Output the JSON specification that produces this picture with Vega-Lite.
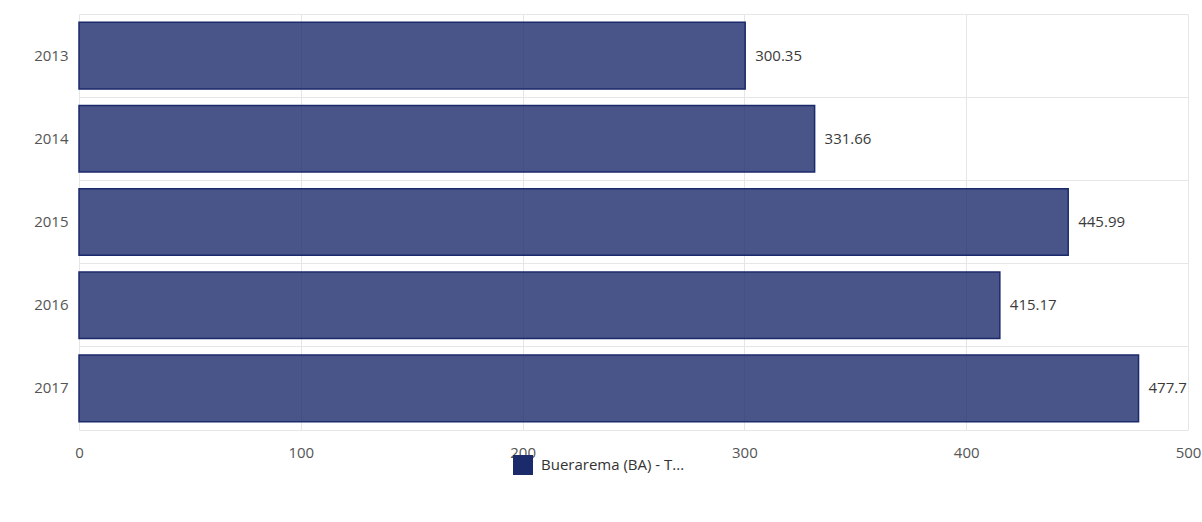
{
  "$schema": "https://vega.github.io/schema/vega-lite/v6.json",
  "autosize": {"type": "none"},
  "padding": {"left": 79, "top": 14, "right": 14, "bottom": 92},
  "width": 1109,
  "height": 416,
  "background": "white",
  "config": {
    "font": "Open Sans",
    "view": {"stroke": null}
  },
  "data": {
    "values": [
      {"year": "2013", "value": 300.35, "series": "Buerarema (BA) - T..."},
      {"year": "2014", "value": 331.66, "series": "Buerarema (BA) - T..."},
      {"year": "2015", "value": 445.99, "series": "Buerarema (BA) - T..."},
      {"year": "2016", "value": 415.17, "series": "Buerarema (BA) - T..."},
      {"year": "2017", "value": 477.7, "series": "Buerarema (BA) - T..."}
    ]
  },
  "encoding": {
    "y": {
      "field": "year",
      "type": "nominal",
      "sort": null,
      "title": null,
      "scale": {"paddingInner": 0, "paddingOuter": 0},
      "axis": {
        "grid": true,
        "bandPosition": 0,
        "gridColor": "#e6e6e6",
        "domain": false,
        "ticks": false,
        "labelPadding": 11,
        "labelFontSize": 15,
        "labelColor": "#555555",
        "labelFont": "Open Sans"
      }
    },
    "x": {
      "field": "value",
      "type": "quantitative",
      "title": null,
      "scale": {"domain": [0, 500], "nice": false},
      "axis": {
        "values": [0, 100, 200, 300, 400, 500],
        "grid": true,
        "gridColor": "#e6e6e6",
        "domainColor": "#e6e6e6",
        "ticks": false,
        "labelPadding": 15,
        "labelFontSize": 15,
        "labelColor": "#555555",
        "labelFont": "Open Sans",
        "labelFlush": false
      }
    }
  },
  "layer": [
    {
      "mark": {
        "type": "bar",
        "height": {"band": 0.8},
        "fillOpacity": 0.8,
        "stroke": "#1B2A6B",
        "strokeWidth": 1.5
      },
      "encoding": {
        "color": {
          "field": "series",
          "type": "nominal",
          "scale": {"range": ["#1B2A6B"]},
          "legend": {
            "orient": "none",
            "legendX": 434,
            "legendY": 441,
            "title": null,
            "symbolType": "square",
            "symbolSize": 400,
            "symbolOpacity": 1,
            "symbolStrokeWidth": 0,
            "labelFontSize": 15,
            "labelColor": "#333333",
            "labelFont": "Open Sans",
            "labelOffset": 8,
            "labelLimit": 300
          }
        }
      }
    },
    {
      "mark": {
        "type": "text",
        "align": "left",
        "baseline": "middle",
        "dx": 10,
        "fontSize": 15,
        "color": "#3a3a3a",
        "font": "Open Sans"
      },
      "encoding": {
        "text": {"field": "value", "type": "quantitative"}
      }
    }
  ]
}
